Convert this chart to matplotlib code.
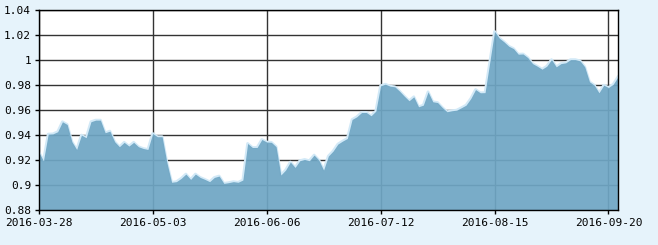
import matplotlib
matplotlib.use("Agg")
import matplotlib.pyplot as plt
import numpy as np

# daily values (trading days), ticks every 24 trading days
dates = ["2016-03-28", "2016-05-03", "2016-06-06", "2016-07-12", "2016-08-15", "2016-09-20"]
tick_step = 24
values = [
    0.9266, 0.9194, 0.9408, 0.9410, 0.9427, 0.9507, 0.9485, 0.9347, 0.9285, 0.9400,
    0.9379, 0.9507, 0.9520, 0.9520, 0.9419, 0.9432, 0.9347, 0.9307, 0.9342, 0.9312,
    0.9342, 0.9307, 0.9293, 0.9285, 0.9413, 0.9387, 0.9387, 0.9180, 0.9022, 0.9027,
    0.9053, 0.9088, 0.9045, 0.9088, 0.9061, 0.9045, 0.9027, 0.9061, 0.9072, 0.9013,
    0.9019, 0.9027, 0.9022, 0.9040, 0.9333, 0.9301, 0.9301, 0.9365, 0.9345, 0.9342,
    0.9307, 0.9080, 0.9120, 0.9184, 0.9141, 0.9195, 0.9205, 0.9195, 0.9240, 0.9200,
    0.9120, 0.9232, 0.9272, 0.9328, 0.9352, 0.9373, 0.9525, 0.9547, 0.9581, 0.9581,
    0.9555, 0.9592, 0.9795, 0.9808, 0.9792, 0.9787, 0.9752, 0.9712, 0.9675, 0.9707,
    0.9627, 0.9640, 0.9747, 0.9667, 0.9661, 0.9621, 0.9587, 0.9595, 0.9600, 0.9619,
    0.9640, 0.9693, 0.9765, 0.9739, 0.9740, 0.9985, 1.0231, 1.0177, 1.0147, 1.0112,
    1.0093, 1.0048, 1.0050, 1.0021, 0.9973, 0.9952, 0.9928, 0.9952, 1.0005, 0.9947,
    0.9973, 0.9979, 1.0005, 1.0005, 0.9995, 0.9947, 0.9827, 0.9800, 0.9739, 0.9800,
    0.9781, 0.9808, 0.9867,
]
yticks = [0.88, 0.90, 0.92, 0.94, 0.96, 0.98, 1.00, 1.02, 1.04]
ytick_labels = ["0.88", "0.9", "0.92", "0.94", "0.96", "0.98", "1", "1.02", "1.04"]

x = np.arange(len(values))
y = np.array(values)

bg = "#e6f3fb"
fig = plt.figure(figsize=(6.58, 2.45), dpi=100, facecolor=bg)
ax = fig.add_axes([0.0588, 0.1429, 0.8804, 0.8151])
ax.set_facecolor("white")

ax.set_xlim(0, len(values) - 1)
ax.set_ylim(0.88, 1.04)

ax.grid(True, color="#333333", linewidth=1.0)
ax.set_axisbelow(True)

ax.plot(x, y, color="#d2e9f7", linewidth=2.0, zorder=2)
ax.fill_between(x, y, 0.88, color="#6fa6c4", alpha=0.93, linewidth=0, zorder=3)

ax.set_xticks(np.arange(len(dates)) * tick_step)
ax.set_xticklabels(dates)
ax.set_yticks(yticks)
ax.set_yticklabels(ytick_labels)

for s in ax.spines.values():
    s.set_color("black")
    s.set_linewidth(1.0)
    s.set_zorder(5)

ax.tick_params(axis="both", length=3, width=1, color="black", labelsize=8,
               labelcolor="black", direction="out")
ax.tick_params(axis="y", pad=2.5)
ax.tick_params(axis="x", pad=3)
for lbl in ax.get_xticklabels() + ax.get_yticklabels():
    lbl.set_family("DejaVu Sans Mono")

fig.savefig("out.png", dpi=100, facecolor=bg)
